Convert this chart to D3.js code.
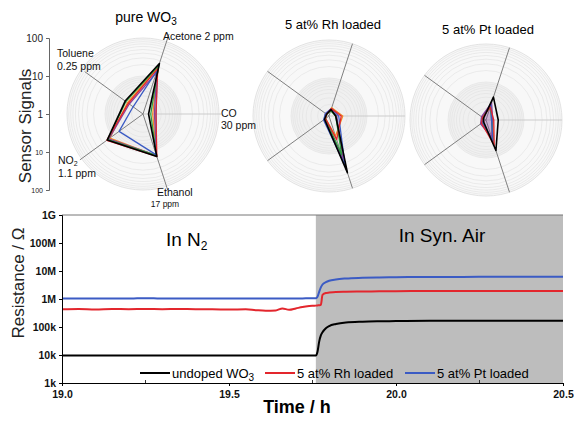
<!DOCTYPE html>
<html>
<head>
<meta charset="utf-8">
<script src="https://cdn.jsdelivr.net/npm/d3@7"></script>
<style>
  body { margin: 0; background: #fff; }
  svg { font-family: "Liberation Sans", Arial, sans-serif; }
</style>
</head>
<body>
<svg id="chart" width="574" height="424"></svg>
<script>
// ---- radar data (sensor signal per gas) ----
var gases = ["CO", "Acetone", "Toluene", "NO2", "Ethanol"];
var gasAngles = [0, 72, 144, 216, 288];
var radarTitles = ["pure WO", "5 at% Rh loaded", "5 at% Pt loaded"];
var seriesColors = ["#000000", "#e3262d", "#3b5bc4", "#2e9e3e", "#8a3f9a", "#f08a24"];

// order of values: CO, Acetone, Toluene, NO2, Ethanol
var pureSeries = [
  [1.4, 25, 3.8, 14.5, 15],
  [2.2, 18, 3.0, 15, 15],
  [2.2, 16, 2.1, 6.0, 13.5],
  [1.6, 22, 3.6, 14, 14],
  [2.0, 14, 2.8, 13, 14],
  [1.8, 20, 3.2, 12, 14.5]
];
var rhSeries = [
  [1.5, 1.5, 1.2, 1.4, 37],
  [2.1, 1.6, 1.2, 1.3, 4.5],
  [1.8, 1.6, 1.3, 1.5, 23],
  [1.5, 1.4, 1.2, 1.3, 12],
  [1.6, 1.5, 1.3, 1.4, 16],
  [2.3, 1.7, 1.2, 1.3, 3.6]
];
var ptSeries = [
  [2.1, 4.3, 1.2, 1.2, 7.0],
  [1.6, 2.3, 1.3, 1.4, 5.0],
  [1.4, 2.6, 1.3, 1.3, 4.0],
  [1.4, 2.4, 1.3, 1.3, 4.2],
  [1.5, 3.0, 1.4, 1.5, 3.0],
  [1.5, 2.2, 1.3, 1.3, 4.4]
];
var signalTicks = [-2, -1, 0, 1, 2];
var signalTickLabels = ["100", "10", "1", "10", "100"];

// ---- resistance transient ----
var times = [19.00, 19.05, 19.10, 19.15, 19.20, 19.25, 19.30, 19.35, 19.40, 19.45, 19.50, 19.55, 19.58, 19.61, 19.64, 19.66, 19.68, 19.70, 19.72, 19.74, 19.76,
  19.765, 19.77, 19.775, 19.78, 19.79, 19.80, 19.82, 19.85, 19.90, 19.95, 20.00, 20.10, 20.20, 20.30, 20.40, 20.50];
var undoped = [9.5e3, 9.5e3, 9.5e3, 9.5e3, 9.5e3, 9.5e3, 9.5e3, 9.5e3, 9.5e3, 9.5e3, 9.5e3, 9.5e3, 9.5e3, 9.5e3, 9.5e3, 9.5e3, 9.5e3, 9.5e3, 9.5e3, 9.5e3, 9.5e3,
  1.3e4, 3.0e4, 5.0e4, 6.5e4, 9.0e4, 1.08e5, 1.28e5, 1.45e5, 1.55e5, 1.6e5, 1.63e5, 1.66e5, 1.67e5, 1.68e5, 1.68e5, 1.67e5];
var rhLoaded = [4.3e5, 4.4e5, 4.2e5, 4.4e5, 4.3e5, 4.4e5, 4.3e5, 4.4e5, 4.3e5, 4.3e5, 4.2e5, 4.3e5, 4.0e5, 3.8e5, 3.9e5, 4.6e5, 4.1e5, 4.6e5, 5.2e5, 5.6e5, 5.8e5,
  5.9e5, 6.0e5, 6.2e5, 1.4e6, 1.65e6, 1.7e6, 1.78e6, 1.82e6, 1.86e6, 1.88e6, 1.9e6, 1.92e6, 1.93e6, 1.93e6, 1.94e6, 1.94e6];
var ptLoaded = [1.05e6, 1.05e6, 1.04e6, 1.05e6, 1.05e6, 1.06e6, 1.05e6, 1.05e6, 1.04e6, 1.05e6, 1.05e6, 1.05e6, 1.05e6, 1.05e6, 1.05e6, 1.05e6, 1.05e6, 1.05e6, 1.05e6, 1.06e6, 1.06e6,
  1.2e6, 1.8e6, 2.6e6, 3.3e6, 4.0e6, 4.5e6, 5.0e6, 5.4e6, 5.7e6, 5.9e6, 6.0e6, 6.1e6, 6.15e6, 6.2e6, 6.2e6, 6.2e6];
var airStart = 19.76;
var resTicks = [1e3, 1e4, 1e5, 1e6, 1e7, 1e8, 1e9];
var resTickLabels = ["1k", "10k", "100k", "1M", "10M", "100M", "1G"];
var timeTicks = [19.0, 19.5, 20.0, 20.5];
var timeMinor = [19.25, 19.75, 20.25];
var legendNames = ["undoped WO", "5 at% Rh loaded", "5 at% Pt loaded"];
var legendColors = ["#000000", "#e3262d", "#3b5bc4"];

var svg = d3.select("#chart");

// ================= radars =================
var R = 76;
var rScale = d3.scaleLog().domain([1, 100]).range([0, R]);
var gridVals = [2, 3, 4, 5, 6, 7, 8, 9, 10, 20, 30, 40, 50, 60, 70, 80, 90];

function drawRadar(cx, cy, series, spokeLen, fillPurple) {
  var g = svg.append("g").attr("transform", "translate(" + cx + "," + cy + ")");
  g.append("circle").attr("r", R).attr("fill", "#f8f8f8").attr("stroke", "#dcdcdc").attr("stroke-width", 0.8);
  g.append("circle").attr("r", rScale(10)).attr("fill", "#f0f0f0");
  g.selectAll(".grid").data(gridVals).enter().append("circle")
    .attr("r", function(d) { return rScale(d); })
    .attr("fill", "none").attr("stroke", "#e0e0e0").attr("stroke-width", 0.6);

  g.selectAll(".spoke").data(gasAngles).enter().append("line")
    .attr("x1", 0).attr("y1", 0)
    .attr("x2", function(d, i) { return spokeLen[i] * Math.cos(d * Math.PI / 180); })
    .attr("y2", function(d, i) { return -spokeLen[i] * Math.sin(d * Math.PI / 180); })
    .attr("stroke", function(d) { return d === 0 ? "#cccccc" : "#808080"; })
    .attr("stroke-width", 1);

  var line = d3.lineRadial()
    .angle(function(d, i) { return Math.PI / 2 - gasAngles[i] * Math.PI / 180; })
    .radius(function(d) { return rScale(d); })
    .curve(d3.curveLinearClosed);

  series.slice().reverse().forEach(function(s, k) {
    var idx = series.length - 1 - k;
    var filled = fillPurple && idx === 4;
    g.append("path").attr("d", line(s))
      .attr("fill", filled ? "#8a3f9a" : "none")
      .attr("fill-opacity", filled ? 0.35 : 0)
      .attr("stroke", seriesColors[idx])
      .attr("stroke-width", idx === 0 ? 1.6 : 1.3)
      .attr("stroke-linejoin", "round");
  });
  return g;
}

drawRadar(143, 114, pureSeries, [78, 84, 72, 78, 80], false);
drawRadar(329, 116, rhSeries, [R, R, R, R, R], false);
drawRadar(486, 120, ptSeries, [R, R, R, R, R], true);

// radar titles
var t1 = svg.append("text").attr("x", 146).attr("y", 22).attr("text-anchor", "middle")
  .attr("font-size", 14).text(radarTitles[0]);
t1.append("tspan").attr("font-size", 10).attr("dy", 3).text("3");
svg.append("text").attr("x", 333).attr("y", 29).attr("text-anchor", "middle")
  .attr("font-size", 13).text(radarTitles[1]);
svg.append("text").attr("x", 488).attr("y", 34).attr("text-anchor", "middle")
  .attr("font-size", 13).text(radarTitles[2]);

// gas labels on the first radar
var lab = svg.append("g").attr("font-size", 10.5).attr("fill", "#111");
lab.append("text").attr("x", 163).attr("y", 40).text("Acetone 2 ppm");
lab.append("text").attr("x", 57).attr("y", 57).text("Toluene");
lab.append("text").attr("x", 57).attr("y", 70).text("0.25 ppm");
lab.append("text").attr("x", 221).attr("y", 117).text("CO");
lab.append("text").attr("x", 221).attr("y", 129).text("30 ppm");
var no2 = lab.append("text").attr("x", 58).attr("y", 164).text("NO");
no2.append("tspan").attr("font-size", 7).attr("dy", 2).text("2");
lab.append("text").attr("x", 58).attr("y", 177).text("1.1 ppm");
lab.append("text").attr("x", 157).attr("y", 196).text("Ethanol");
lab.append("text").attr("x", 165).attr("y", 207).attr("text-anchor", "middle").attr("font-size", 8.5).text("17 ppm");

// signal axis
var sigY = d3.scaleLinear().domain([-2, 2]).range([190, 38]);
var sigAxis = svg.append("g").attr("transform", "translate(49,0)")
  .call(d3.axisLeft(sigY).tickValues(signalTicks).tickSize(3)
    .tickFormat(function(d, i) { return signalTickLabels[i]; }));
sigAxis.select(".domain").attr("stroke", "#666");
sigAxis.selectAll(".tick line").attr("stroke", "#666");
sigAxis.selectAll(".tick text")
  .attr("font-size", function(d) { return d < 0 ? 7 : 10; })
  .attr("fill", "#222");
svg.append("text").attr("transform", "translate(31,126) rotate(-90)")
  .attr("text-anchor", "middle").attr("font-size", 17).attr("fill", "#222").text("Sensor Signals");

// ================= resistance chart =================
var x = d3.scaleLinear().domain([19, 20.5]).range([62, 563]);
var y = d3.scaleLog().domain([1e3, 1e9]).range([383, 215]);

svg.append("rect").attr("x", x(19)).attr("y", 215).attr("width", x(20.5) - x(19)).attr("height", 168)
  .attr("fill", "#fff");
svg.append("rect").attr("x", x(airStart)).attr("y", 215).attr("width", x(20.5) - x(airStart)).attr("height", 168)
  .attr("fill", "#bdbdbd");
svg.append("line").attr("x1", x(19)).attr("x2", x(20.5)).attr("y1", 215).attr("y2", 215)
  .attr("stroke", "#777").attr("stroke-width", 1);

var line = d3.line()
  .x(function(d, i) { return x(times[i]); })
  .y(function(d) { return y(d); })
  .curve(d3.curveMonotoneX);

[ptLoaded, rhLoaded, undoped].forEach(function(s, k) {
  svg.append("path").attr("d", line(s)).attr("fill", "none")
    .attr("stroke", legendColors[2 - k]).attr("stroke-width", 2);
});

var yAxis = svg.append("g").attr("transform", "translate(" + x(19) + ",0)")
  .call(d3.axisLeft(y).tickValues(resTicks).tickSize(3)
    .tickFormat(function(d, i) { return resTickLabels[i]; }));
yAxis.selectAll(".tick text").attr("font-size", 10.5).attr("font-weight", "bold").attr("fill", "#111");

var xAxis = svg.append("g").attr("transform", "translate(0,383)")
  .call(d3.axisBottom(x).tickValues(timeTicks).tickSize(3).tickFormat(d3.format(".1f")));
xAxis.selectAll(".tick text").attr("font-size", 10.5).attr("font-weight", "bold").attr("fill", "#111").attr("dy", "0.9em");
svg.selectAll(".minor").data(timeMinor).enter().append("line")
  .attr("x1", function(d) { return x(d); }).attr("x2", function(d) { return x(d); })
  .attr("y1", 383).attr("y2", 380).attr("stroke", "#333");

// region labels
var n2 = svg.append("text").attr("x", 166).attr("y", 246).attr("font-size", 19).text("In N");
n2.append("tspan").attr("font-size", 12).attr("dy", 4).text("2");
svg.append("text").attr("x", 442).attr("y", 242).attr("text-anchor", "middle").attr("font-size", 19).text("In Syn. Air");

// legend
var legX = [140, 265, 405];
legendNames.forEach(function(name, i) {
  svg.append("line").attr("x1", legX[i]).attr("x2", legX[i] + 30).attr("y1", 373).attr("y2", 373)
    .attr("stroke", legendColors[i]).attr("stroke-width", 2);
  var t = svg.append("text").attr("x", legX[i] + 32).attr("y", 377.5).attr("font-size", 13).text(name);
  if (i === 0) t.append("tspan").attr("font-size", 10).attr("dy", 3).text("3");
});

// axis titles
svg.append("text").attr("transform", "translate(24,283) rotate(-90)")
  .attr("text-anchor", "middle").attr("font-size", 17).attr("fill", "#222").text("Resistance / \u03A9");
svg.append("text").attr("x", 297).attr("y", 413).attr("text-anchor", "middle")
  .attr("font-size", 18).attr("font-weight", "bold").text("Time / h");
</script>
</body>
</html>
